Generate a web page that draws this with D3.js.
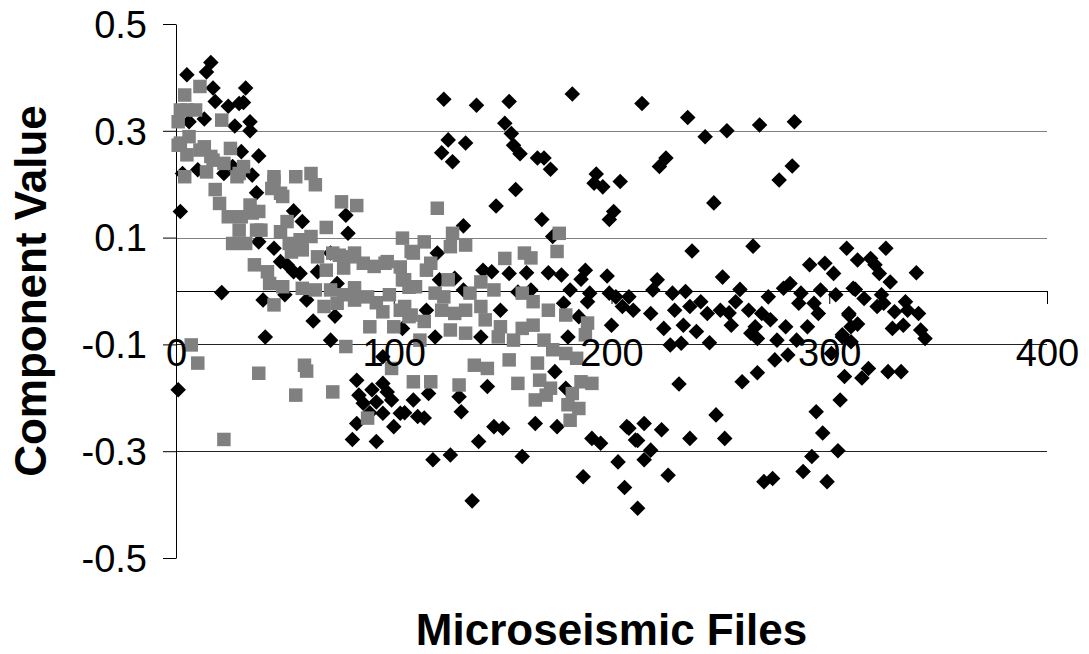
<!DOCTYPE html>
<html>
<head>
<meta charset="utf-8">
<script src="https://cdn.jsdelivr.net/npm/d3@7"></script>
<style>
body { margin: 0; background: #fff; }
svg { display: block; }
</style>
</head>
<body>
<script>
// ----------------------------------- DATA --------------------------------------------
var xTicks = [0, 100, 200, 300, 400]
var yTicks = [-0.5, -0.3, -0.1, 0.1, 0.3, 0.5]
var gridValues = [-0.3, -0.1, 0.1, 0.3]
var xTitle = 'Microseismic Files'
var yTitle = 'Component Value'

// black diamonds: [file, component value]
var darkPoints = [
	[16,0.428],[14,0.410],[5,0.405],[17,0.380],[32,0.380],[18,0.355],[24,0.346],[29,0.351],[31,0.353],[13,0.322],
	[27,0.309],[34,0.317],[34,0.300],[6,0.317],[30,0.261],[38,0.253],[10,0.227],[3,0.220],[22,0.220],[35,0.217],
	[37,0.184],[2,0.149],[54,0.150],[58,0.130],[78,0.142],[79,0.108],[26,0.233],[38,0.092],[21,-0.003],[41,-0.086],
	[71,-0.092],[1,-0.185],[63,-0.056],[73,-0.047],[40,-0.017],[50,-0.007],[60,-0.017],[45,0.080],[48,0.055],[54,0.036],
	[71,0.071],[65,0.036],[74,0.014],[83,-0.167],[90,-0.185],[95,-0.173],[97,-0.189],[86,-0.210],[89,-0.228],[83,-0.248],
	[95,-0.229],[103,-0.229],[100,-0.254],[81,-0.278],[92,-0.282],[95,-0.123],[104,-0.070],[109,-0.204],[111,-0.235],[51,0.049],
	[57,0.033],[84,-0.195],[92,-0.208],[99,-0.204],[123,0.359],[138,0.348],[153,0.355],[182,0.369],[151,0.314],[154,0.295],
	[155,0.273],[158,0.257],[125,0.283],[133,0.277],[122,0.259],[127,0.242],[166,0.249],[169,0.249],[172,0.228],[193,0.219],
	[192,0.202],[196,0.195],[204,0.205],[201,0.149],[199,0.134],[156,0.190],[147,0.159],[168,0.134],[132,0.122],[120,0.071],
	[173,0.102],[141,0.039],[145,0.036],[153,0.033],[161,0.034],[171,0.034],[177,0.030],[188,0.039],[186,0.022],[198,0.028],
	[121,0.021],[128,0.024],[132,0.002],[181,0.002],[163,0.002],[190,-0.004],[189,-0.020],[199,-0.004],[202,-0.011],[208,-0.011],
	[205,-0.029],[210,-0.036],[200,-0.064],[185,-0.048],[178,-0.023],[149,-0.036],[140,-0.086],[119,-0.086],[115,-0.036],[180,-0.086],
	[174,-0.151],[179,-0.182],[143,-0.179],[130,-0.198],[131,-0.226],[116,-0.192],[114,-0.238],[146,-0.254],[150,-0.257],[165,-0.248],
	[175,-0.254],[191,-0.276],[195,-0.285],[207,-0.254],[211,-0.279],[139,-0.282],[118,-0.316],[126,-0.307],[159,-0.310],[187,-0.348],
	[203,-0.320],[206,-0.368],[136,-0.393],[212,-0.407],[105,-0.228],[157,-0.002],[214,0.351],[235,0.325],[243,0.289],[253,0.300],
	[268,0.311],[284,0.317],[225,0.249],[222,0.233],[283,0.234],[277,0.208],[247,0.165],[237,0.075],[265,0.084],[308,0.080],
	[313,0.058],[291,0.049],[298,0.052],[302,0.033],[221,0.021],[219,0.002],[251,0.026],[259,0.003],[218,-0.042],[228,-0.004],
	[234,-0.001],[229,-0.036],[241,-0.020],[236,-0.029],[244,-0.042],[250,-0.036],[254,-0.041],[257,-0.020],[255,-0.064],[233,-0.064],
	[224,-0.070],[239,-0.076],[227,-0.101],[232,-0.098],[245,-0.097],[263,-0.036],[266,-0.067],[269,-0.042],[273,-0.054],[267,-0.089],
	[264,-0.079],[272,-0.011],[279,0.005],[282,0.014],[287,-0.004],[286,-0.023],[296,0.002],[293,-0.023],[295,-0.042],[303,-0.007],
	[311,0.005],[280,-0.067],[276,-0.092],[285,-0.092],[281,-0.120],[275,-0.129],[290,-0.067],[309,-0.042],[306,-0.086],[310,-0.067],
	[267,-0.153],[260,-0.170],[231,-0.174],[301,-0.117],[307,-0.160],[305,-0.204],[294,-0.226],[297,-0.266],[304,-0.299],[292,-0.310],
	[288,-0.338],[299,-0.357],[270,-0.357],[274,-0.351],[248,-0.232],[252,-0.276],[236,-0.276],[223,-0.260],[208,-0.257],[215,-0.248],
	[212,-0.280],[218,-0.298],[215,-0.316],[226,-0.345],[326,0.080],[319,0.061],[321,0.049],[323,0.033],[340,0.034],[328,0.017],
	[312,0.003],[316,-0.014],[324,-0.007],[322,-0.029],[325,-0.023],[335,-0.020],[330,-0.039],[336,-0.036],[341,-0.042],[309,-0.045],
	[313,-0.062],[329,-0.070],[334,-0.064],[342,-0.073],[344,-0.089],[306,-0.082],[310,-0.095],[318,-0.145],[315,-0.163],[327,-0.151],
	[333,-0.151]
]

// grey squares: [file, component value]
var greyPoints = [
	[11,0.383],[4,0.367],[2,0.339],[9,0.339],[1,0.317],[21,0.320],[6,0.289],[1,0.273],[13,0.270],[25,0.267],
	[5,0.255],[16,0.252],[22,0.239],[31,0.233],[14,0.223],[4,0.214],[28,0.214],[18,0.190],[45,0.214],[55,0.214],
	[62,0.220],[64,0.199],[44,0.192],[49,0.177],[20,0.164],[34,0.161],[76,0.167],[83,0.160],[24,0.139],[30,0.139],
	[38,0.149],[51,0.130],[29,0.114],[39,0.114],[48,0.111],[69,0.119],[62,0.102],[104,0.099],[26,0.089],[32,0.089],
	[52,0.089],[36,0.049],[42,0.036],[43,0.014],[49,0.008],[45,-0.026],[53,0.073],[58,0.077],[65,0.064],[69,0.039],
	[75,0.067],[82,0.071],[77,0.043],[58,0.005],[64,0.002],[68,-0.029],[74,-0.023],[82,-0.017],[88,-0.011],[91,0.046],
	[96,0.052],[104,0.021],[109,0.071],[89,-0.067],[95,-0.039],[100,-0.067],[103,-0.036],[107,-0.048],[7,-0.101],[10,-0.135],
	[38,-0.154],[59,-0.139],[60,-0.150],[55,-0.195],[72,-0.189],[78,-0.104],[88,-0.238],[22,-0.278],[99,-0.145],[109,-0.170],
	[57,0.096],[86,0.052],[71,0.002],[77,-0.007],[82,0.006],[92,-0.022],[98,-0.007],[103,0.045],[107,0.007],[120,0.155],
	[108,0.074],[114,0.092],[127,0.108],[126,0.083],[133,0.086],[151,0.061],[160,0.071],[163,0.062],[176,0.108],[175,0.074],
	[117,0.052],[115,0.039],[105,0.021],[110,0.008],[125,0.021],[140,0.017],[146,0.002],[119,-0.004],[123,-0.011],[135,-0.004],
	[159,-0.004],[164,-0.020],[105,-0.029],[108,-0.045],[114,-0.057],[122,-0.036],[128,-0.042],[133,-0.036],[140,-0.029],[142,-0.054],
	[126,-0.073],[133,-0.079],[149,-0.067],[148,-0.086],[155,-0.092],[159,-0.070],[164,-0.064],[171,-0.036],[179,-0.045],[189,-0.060],
	[188,-0.082],[169,-0.092],[173,-0.110],[179,-0.117],[184,-0.126],[166,-0.135],[153,-0.129],[137,-0.139],[143,-0.145],[117,-0.170],
	[130,-0.176],[157,-0.173],[167,-0.167],[172,-0.182],[170,-0.195],[186,-0.170],[191,-0.173],[182,-0.192],[165,-0.204],[180,-0.213],
	[185,-0.220],[181,-0.242],[112,-0.092],[11,0.264],[17,0.245],[5,0.339],[2,0.277],[29,0.220],[45,0.205],[48,0.183],
	[35,0.146],[37,0.114],[72,0.071],[80,0.064],[97,0.055]
]
// ----------------------------------------------------------------------------------------------

// ----------------------------------- SVG and SCALES --------------------------------------------
var width = 1089
var height = 654
var font = "Arial, 'Liberation Sans', sans-serif"

var svg = d3.select('body')
			.append('svg')
			.attr('width', width)
			.attr('height', height)

svg.append('rect')
	.attr('width', '100%')
	.attr('height', '100%')
	.attr('fill', 'white')

var x = d3.scaleLinear().domain([0, 400]).range([176, 1047])
var y = d3.scaleLinear().domain([-0.5, 0.5]).range([558, 24])

function yAxisGen() {
	return d3.axisLeft(y)
		.tickValues(yTicks)
		.tickSize(13)
		.tickPadding(16)
		.tickSizeOuter(0)
		.tickFormat(function(d){ return d.toFixed(1) })
}

function xAxisGen() {
	return d3.axisBottom(x)
		.tickValues(xTicks)
		.tickSize(13)
		.tickPadding(35)
		.tickSizeOuter(0)
		.tickFormat(d3.format('d'))
}
// ----------------------------------------------------------------------------------------------

// ----------------------------------- GRID and AXIS LINES --------------------------------------------
svg.append('g')
	.selectAll('line')
	.data(gridValues)
	.enter()
	.append('line')
	.attr('x1', x(0))
	.attr('x2', x(400))
	.attr('y1', function(d){ return Math.round(y(d)) + 0.5 })
	.attr('y2', function(d){ return Math.round(y(d)) + 0.5 })
	.attr('stroke', function(d){ return d > 0 ? '#808080' : '#222' })
	.attr('stroke-width', 1)

var yAxisBack = svg.append('g')
	.attr('transform', 'translate(' + x(0) + ',0)')
	.call(yAxisGen())
yAxisBack.selectAll('text').remove()

var xAxisBack = svg.append('g')
	.attr('transform', 'translate(0,' + Math.round(y(0)) + ')')
	.call(xAxisGen())
xAxisBack.selectAll('text').remove()
// ----------------------------------------------------------------------------------------------

// ----------------------------------- POINTS --------------------------------------------
var diamond = d3.symbol().type(d3.symbolSquare).size(121)
var square = d3.symbol().type(d3.symbolSquare).size(182)

svg.append('g')
	.selectAll('path')
	.data(darkPoints)
	.enter()
	.append('path')
	.attr('d', diamond)
	.attr('transform', function(d){ return 'translate(' + x(d[0]) + ',' + y(d[1]) + ') rotate(45)' })
	.attr('fill', 'black')

svg.append('g')
	.selectAll('path')
	.data(greyPoints)
	.enter()
	.append('path')
	.attr('d', square)
	.attr('transform', function(d){ return 'translate(' + x(d[0]) + ',' + y(d[1]) + ')' })
	.attr('fill', '#808080')
// ----------------------------------------------------------------------------------------------

// ----------------------------------- LABELS and TITLES --------------------------------------------
var yAxisFront = svg.append('g')
	.attr('transform', 'translate(' + x(0) + ',0)')
	.call(yAxisGen())
	.attr('font-size', 38)
	.attr('font-family', font)
yAxisFront.selectAll('path, line').remove()
yAxisFront.selectAll('text').attr('dy', '0.35em').attr('fill', 'black')

var xAxisFront = svg.append('g')
	.attr('transform', 'translate(0,' + Math.round(y(0)) + ')')
	.call(xAxisGen())
	.attr('font-size', 38)
	.attr('font-family', font)
xAxisFront.selectAll('path, line').remove()
xAxisFront.selectAll('text').attr('fill', 'black')

svg.append('text')
	.attr('x', (x(0) + x(400)) / 2)
	.attr('y', 645)
	.attr('text-anchor', 'middle')
	.attr('font-family', font)
	.attr('font-weight', 'bold')
	.attr('font-size', 44)
	.text(xTitle)

svg.append('text')
	.attr('transform', 'translate(46,' + (y(0.5) + y(-0.5)) / 2 + ') rotate(-90)')
	.attr('text-anchor', 'middle')
	.attr('font-family', font)
	.attr('font-weight', 'bold')
	.attr('font-size', 44)
	.text(yTitle)
// ----------------------------------------------------------------------------------------------
</script>
</body>
</html>
